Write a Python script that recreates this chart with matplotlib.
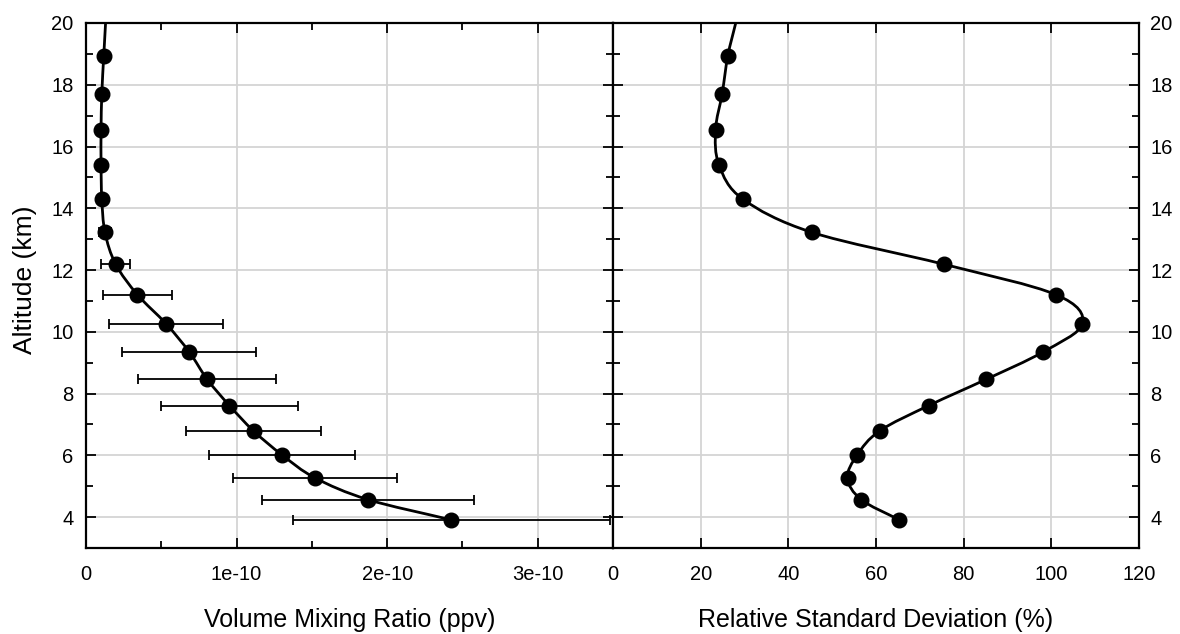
import numpy as np
import matplotlib
matplotlib.use("Agg")
import matplotlib.pyplot as plt
from matplotlib.path import Path
from matplotlib.patches import PathPatch
from matplotlib.ticker import MultipleLocator, FixedLocator

plt.rcParams['font.family'] = ['Liberation Sans', 'DejaVu Sans']

# altitudes of the retrieval levels (km)
Altitude = [18.94, 17.71, 16.55, 15.40, 14.30, 13.22, 12.19, 11.20, 10.26, 9.34,
            8.46, 7.61, 6.79, 6.01, 5.27, 4.57, 3.91]

# volume mixing ratio (ppv) and its error
VMR = [0.118e-10, 0.105e-10, 0.100e-10, 0.100e-10, 0.105e-10, 0.126e-10, 0.197e-10,
       0.342e-10, 0.532e-10, 0.687e-10, 0.805e-10, 0.953e-10, 1.113e-10, 1.303e-10,
       1.521e-10, 1.871e-10, 2.426e-10]
VMRError = [0.02e-10, 0.02e-10, 0.02e-10, 0.02e-10, 0.025e-10, 0.04e-10, 0.095e-10,
            0.23e-10, 0.379e-10, 0.445e-10, 0.457e-10, 0.456e-10, 0.451e-10, 0.484e-10,
            0.543e-10, 0.705e-10, 1.054e-10]

# relative standard deviation (%)
RSD = [26.2, 24.9, 23.4, 24.2, 29.6, 45.4, 75.4, 101.1, 107.1, 98.0, 85.1, 72.0,
       60.8, 55.7, 53.5, 56.6, 65.3]

# where the curves leave the top of the plot
TopAltitude = 20.0
VMRTop = 0.13e-10
RSDTop = 28.0


def SmoothPath(x, y):
    # Catmull-Rom spline through the points, written as cubic Bezier segments
    P = np.column_stack([x, y])
    Ext = np.vstack([2 * P[0] - P[1], P, 2 * P[-1] - P[-2]])
    Verts = [P[0]]
    Codes = [Path.MOVETO]
    for i in range(1, len(Ext) - 2):
        P0, P1, P2, P3 = Ext[i - 1], Ext[i], Ext[i + 1], Ext[i + 2]
        Verts += [P1 + (P2 - P0) / 6.0, P2 - (P3 - P1) / 6.0, P2]
        Codes += [Path.CURVE4] * 3
    return Path(Verts, Codes)


def StyleAxis(ax):
    for Spine in ax.spines.values():
        Spine.set_linewidth(1.6)
    ax.tick_params(which='both', direction='in', top=True, bottom=True, left=True, right=True,
                   width=1.3, labelsize=14.5, color='black')
    ax.tick_params(which='major', length=7)
    ax.tick_params(which='minor', length=5)
    ax.grid(True, which='major', color='#d4d4d4', linewidth=1.3)
    ax.set_axisbelow(True)
    ax.set_ylim(3, 20)
    ax.yaxis.set_major_locator(FixedLocator([4, 6, 8, 10, 12, 14, 16, 18, 20]))
    ax.yaxis.set_minor_locator(MultipleLocator(1))


fig = plt.figure(figsize=(11.8, 6.34), dpi=100)
axLeft = fig.add_axes([86 / 1180, 86 / 634, 527 / 1180, 525 / 634])
axRight = fig.add_axes([613 / 1180, 86 / 634, 526 / 1180, 525 / 634])

# left panel: VMR profile with error bars
StyleAxis(axLeft)
axLeft.set_xlim(0, 3.5e-10)
axLeft.xaxis.set_major_locator(FixedLocator([0, 1e-10, 2e-10, 3e-10]))
axLeft.xaxis.set_minor_locator(MultipleLocator(0.5e-10))
axLeft.set_xticklabels(["0", "1e-10", "2e-10", "3e-10"])
axLeft.add_patch(PathPatch(SmoothPath([VMRTop] + VMR, [TopAltitude] + Altitude),
                           facecolor='none', edgecolor='black', lw=2.0, zorder=3))
axLeft.errorbar(VMR, Altitude, xerr=VMRError, fmt='none', ecolor='black',
                elinewidth=1.3, capsize=3.5, capthick=1.3, zorder=2)
axLeft.plot(VMR, Altitude, 'o', color='black', markersize=10.5, zorder=4)
axLeft.tick_params(axis='x', pad=12)
axLeft.tick_params(axis='y', pad=9, right=True, labelright=False)
axLeft.set_xlabel("Volume Mixing Ratio (ppv)", fontsize=18)
axLeft.xaxis.set_label_coords(0.5, -0.137)
axLeft.xaxis.label.set_va('center')
axLeft.set_ylabel("Altitude (km)", fontsize=19)
axLeft.yaxis.set_label_coords(-0.115, 0.51)
axLeft.yaxis.label.set_va('center')

# right panel: relative standard deviation
StyleAxis(axRight)
axRight.set_xlim(0, 120)
axRight.xaxis.set_major_locator(MultipleLocator(20))
axRight.add_patch(PathPatch(SmoothPath([RSDTop] + RSD, [TopAltitude] + Altitude),
                            facecolor='none', edgecolor='black', lw=2.0, zorder=3))
axRight.plot(RSD, Altitude, 'o', color='black', markersize=10.5, zorder=4)
axRight.tick_params(axis='x', pad=12)
axRight.tick_params(axis='y', pad=8, labelleft=False, labelright=True)
axRight.set_xlabel("Relative Standard Deviation (%)", fontsize=18)
axRight.xaxis.set_label_coords(0.5, -0.137)
axRight.xaxis.label.set_va('center')

fig.savefig("out.png", dpi=100)
